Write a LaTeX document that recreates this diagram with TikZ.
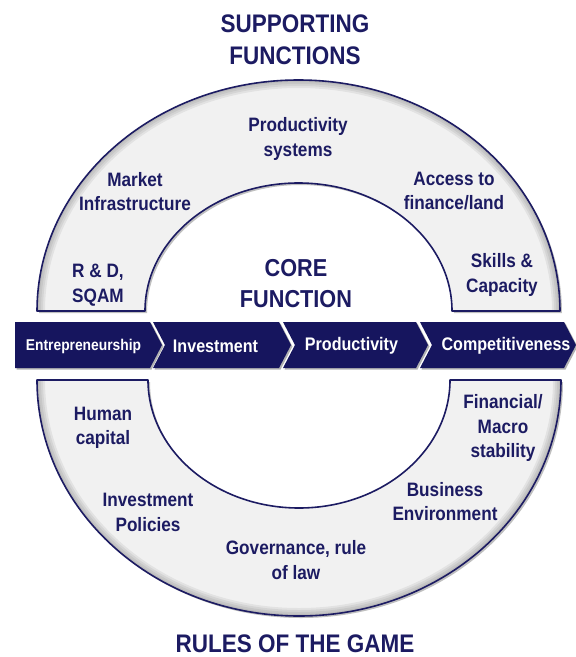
\documentclass[tikz,border=0pt]{standalone}
\usepackage{fontspec}
\setmainfont{Liberation Sans}[FakeStretch=0.885]
\definecolor{navy}{HTML}{1C1B62}
\definecolor{bandblue}{HTML}{16155E}
\definecolor{ringfill}{HTML}{F1F1F1}
\def\UpRing{(37,311) arc[start angle=180,end angle=360,x radius=261.5,y radius=231] -- (452,311) arc[start angle=0,end angle=-180,x radius=153.5,y radius=128] -- cycle}
\def\UpOuter{(37,311) arc[start angle=180,end angle=360,x radius=261.5,y radius=231]}
\def\LoRing{(37,380) arc[start angle=180,end angle=0,x radius=262,y radius=236] -- (450,380) arc[start angle=0,end angle=180,x radius=151,y radius=128] -- cycle}
\def\LoOuter{(37,380) arc[start angle=180,end angle=0,x radius=262,y radius=236]}
\def\ChevA{(15,322) -- (150,322) -- (162,345) -- (150,368) -- (15,368) -- cycle}
\def\ChevB{(153,322) -- (279,322) -- (291,345) -- (279,368) -- (153,368) -- (165,345) -- cycle}
\def\ChevC{(283,322) -- (416,322) -- (428,345) -- (416,368) -- (283,368) -- (295,345) -- cycle}
\def\ChevD{(420,322) -- (564,322) -- (576,345) -- (564,368) -- (420,368) -- (432,345) -- cycle}
\begin{document}
\begin{tikzpicture}[x=1pt,y=-1pt,
  lab/.style={text=navy,font=\bfseries\fontsize{19.4}{24.5}\selectfont,align=center,inner sep=0pt},
  ttl/.style={text=navy,font=\bfseries\fontsize{25.4}{32}\selectfont,align=center,inner sep=0pt},
  chev/.style={fill=bandblue,draw=none},
  chevshadow/.style={fill=black!30,draw=none},
  ctext/.style={text=white,font=\bfseries\fontsize{18.2}{20}\selectfont,inner sep=0pt},
  ring/.style={fill=ringfill,draw=navy,line width=1.6pt},
  ringshadow/.style={fill=black!25,draw=none},
  ishadow/.style={draw=black,draw opacity=0.06}]
\useasboundingbox (0,0) rectangle (576,657);
% rings
\fill[ringshadow,shift={(2,2)}] \UpRing;
\fill[ringshadow,shift={(2,2)}] \LoRing;
\fill[ringfill] \UpRing;
\fill[ringfill] \LoRing;
\begin{scope}
  \clip \UpRing;
  \foreach \w in {16,12,8,4} {\draw[ishadow,line width=\w pt] \UpOuter;}
\end{scope}
\begin{scope}
  \clip \LoRing;
  \foreach \w in {16,12,8,4} {\draw[ishadow,line width=\w pt] \LoOuter;}
\end{scope}
\draw[navy,line width=1.6pt,line join=round] \UpRing;
\draw[navy,line width=1.6pt,line join=round] \LoRing;
% chevron band
\fill[chevshadow,shift={(1.5,1.5)}] \ChevA;
\fill[chevshadow,shift={(1.5,1.5)}] \ChevB;
\fill[chevshadow,shift={(1.5,1.5)}] \ChevC;
\fill[chevshadow,shift={(1.5,1.5)}] \ChevD;
\fill[chev] \ChevA;
\fill[chev] \ChevB;
\fill[chev] \ChevC;
\fill[chev] \ChevD;
\node[ctext,font=\bfseries\fontsize{15.6}{18}\selectfont] (entre) at (83.5,346) {Entrepreneurship};
\node[ctext] (inv) at (215.5,346) {Investment};
\node[ctext] (prod) at (351.5,346) {Productivity};
\node[ctext] (comp) at (506,346) {Competitiveness};
% titles
\node[ttl] (supp) at (295,40) {SUPPORTING\\FUNCTIONS};
\node[ttl,font=\bfseries\fontsize{24.5}{31}\selectfont] (core) at (296,283.5) {CORE\\FUNCTION};
\node[ttl] (rules) at (295,644) {RULES OF THE GAME};
% upper labels
\node[lab] (psys) at (298,139) {Productivity\\systems};
\node[lab] (mkt) at (135,191.5) {Market\\Infrastructure};
\node[lab] (rd) at (98,285) {R \& D,\\SQAM};
\node[lab] (acc) at (454,191) {Access to\\finance/land};
\node[lab] (skills) at (502,275) {Skills \&\\Capacity};
% lower labels
\node[lab] (human) at (103,428) {Human\\capital};
\node[lab] (fin) at (503,428) {Financial/\\Macro\\stability};
\node[lab] (invpol) at (148,512.5) {Investment\\Policies};
\node[lab] (bus) at (445,501.5) {Business\\Environment};
\node[lab] (gov) at (296,560) {Governance, rule\\of law};
\end{tikzpicture}
\end{document}
